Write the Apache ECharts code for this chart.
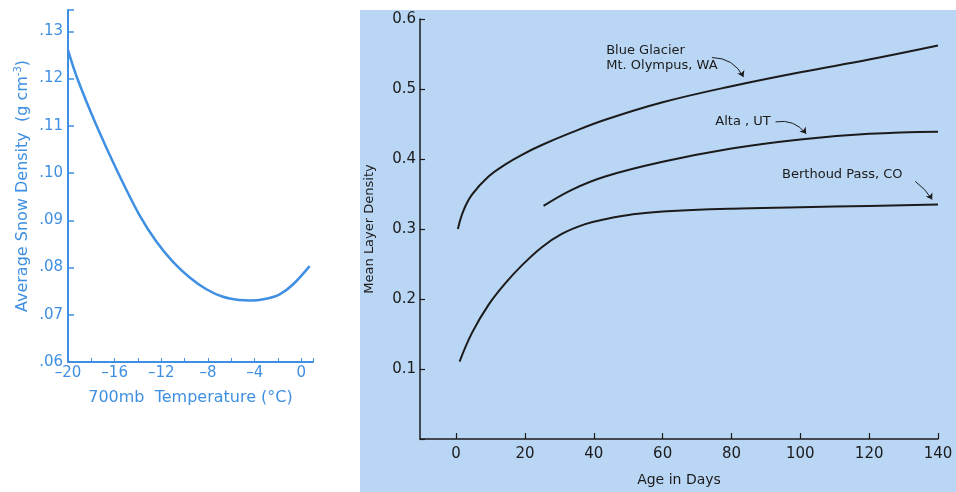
<!DOCTYPE html>
<html>
<head>
<meta charset="utf-8">
<script src="https://cdn.jsdelivr.net/npm/echarts@6/dist/echarts.min.js"></script>
<style>
  html, body { margin: 0; padding: 0; background: #fff; }
  #chart { width: 956px; height: 492px; }
</style>
</head>
<body>
<div id="chart"></div>
<script>
// left panel: snow density vs 700mb temperature
const tempC = [-20, -19.2, -17.55, -15.7, -13.9, -12.43, -11, -9.57, -8.14, -6.72, -5.29, -4.43, -3, -1.86, -0.72, 0.71];
const avgDensity = [0.126, 0.120, 0.110, 0.100, 0.0912, 0.0855, 0.0812, 0.0779, 0.0754, 0.0738, 0.0731, 0.0730, 0.0734, 0.0743, 0.0764, 0.0803];

// right panel: mean layer density vs age
const blueDays = [0.5, 2.1, 4.6, 9.4, 14.2, 19.1, 24.9, 33.6, 43.3, 60, 80, 100, 120, 140];
const blueDensity = [0.300, 0.326, 0.349, 0.375, 0.392, 0.406, 0.420, 0.438, 0.456, 0.481, 0.504, 0.524, 0.542, 0.562];
const altaDays = [25.4, 33.6, 43.3, 60, 80, 100, 120, 140];
const altaDensity = [0.333, 0.356, 0.375, 0.396, 0.415, 0.428, 0.436, 0.439];
const berthDays = [1.0, 4.6, 9.4, 14.2, 19.1, 24.9, 30.7, 37.5, 43.3, 51.4, 60, 80, 100, 120, 140];
const berthDensity = [0.1106, 0.1516, 0.1916, 0.222, 0.248, 0.274, 0.293, 0.307, 0.314, 0.321, 0.325, 0.329, 0.331, 0.333, 0.335];

const ageTicks = [0, 20, 40, 60, 80, 100, 120, 140];

// labels + arrows: [text, textDay, textVal, arrowFrom, arrowTo, curveness]
const notes = [
  ["Blue Glacier\nMt. Olympus, WA", 43.6, 0.544, [74.3, 0.545], [83.5, 0.517], 0.3],
  ["Alta , UT", 75.3, 0.453, [92.8, 0.453], [101.7, 0.436], 0.3],
  ["Berthoud Pass, CO", 94.7, 0.3775, [133.4, 0.368], [138.3, 0.342], 0.1]
];

const BLUE = "#3f8fe2";
const INK = "#1b1b1b";
const FONT = "DejaVu Sans";

function zip(xs, ys) {
  return xs.map((x, i) => [x, ys[i]]);
}

const chart = echarts.init(document.getElementById("chart"));

chart.setOption({
  animation: false,
  textStyle: { fontFamily: FONT },
  graphic: [
    { type: "rect", z: -10, shape: { x: 360, y: 10, width: 596, height: 482 }, style: { fill: "#bad6f5" } }
  ],
  grid: [
    { left: 68, top: 10, width: 245, height: 352 },
    { left: 420, top: 19, width: 518, height: 425 }
  ],
  xAxis: [
    {
      gridIndex: 0, type: "value", min: -20, max: 1, interval: 2,
      name: "700mb  Temperature (°C)", nameLocation: "middle", nameGap: 28,
      nameTextStyle: { color: BLUE, fontSize: 16 },
      axisLine: { onZero: false, lineStyle: { color: BLUE, width: 2 } },
      axisTick: { inside: true, length: 4, lineStyle: { color: BLUE, width: 1 } },
      axisLabel: {
        color: BLUE, fontSize: 15, margin: 4,
        formatter: v => (v % 4 === 0 ? String(v).replace("-", "–") : "")
      },
      splitLine: { show: false }
    },
    {
      gridIndex: 1, type: "value", min: -10.5, max: 140,
      name: "Age in Days", nameLocation: "middle", nameGap: 34,
      nameTextStyle: { color: INK, fontSize: 14 },
      axisLine: { onZero: false, lineStyle: { color: INK, width: 1.5 } },
      axisTick: { inside: true, length: 6, customValues: ageTicks, lineStyle: { color: INK, width: 1.2 } },
      axisLabel: { color: INK, fontSize: 15, margin: 8, customValues: ageTicks },
      splitLine: { show: false }
    }
  ],
  yAxis: [
    {
      gridIndex: 0, type: "value", min: 0.06, max: 0.1345, interval: 0.01,
      name: "Average Snow Density  (g cm{sup|-3})", nameLocation: "middle", nameGap: 36,
      nameTextStyle: {
        color: BLUE, fontSize: 16,
        rich: { sup: { fontSize: 10, color: BLUE, padding: [0, 0, 9, 0] } }
      },
      axisLine: { onZero: false, lineStyle: { color: BLUE, width: 2 } },
      axisTick: { inside: true, length: 6, lineStyle: { color: BLUE, width: 1.5 } },
      axisLabel: {
        color: BLUE, fontSize: 15, margin: 5,
        formatter: v => {
          const c = v * 100;
          if (Math.abs(c - Math.round(c)) > 1e-6) return "";
          return (Math.round(c) / 100).toFixed(2).slice(1);
        }
      },
      splitLine: { show: false }
    },
    {
      gridIndex: 1, type: "value", min: 0, max: 0.6, interval: 0.1,
      name: "Mean Layer Density", nameLocation: "middle", nameGap: 44,
      nameTextStyle: { color: INK, fontSize: 13 },
      axisLine: { onZero: false, lineStyle: { color: INK, width: 1.5 } },
      axisTick: { inside: true, length: 5, lineStyle: { color: INK, width: 1.2 } },
      axisLabel: {
        color: INK, fontSize: 15, margin: 4,
        formatter: v => (v === 0 ? "" : v.toFixed(1))
      },
      splitLine: { show: false }
    }
  ],
  series: [
    {
      type: "line", xAxisIndex: 0, yAxisIndex: 0, smooth: 0.35, symbol: "none",
      lineStyle: { color: BLUE, width: 2.5 },
      data: zip(tempC, avgDensity)
    },
    ...[[blueDays, blueDensity], [altaDays, altaDensity], [berthDays, berthDensity]].map(([xs, ys], i) => ({
      type: "line", xAxisIndex: 1, yAxisIndex: 1, smooth: 0.4, symbol: "none",
      lineStyle: { color: INK, width: 2 },
      data: zip(xs, ys),
      markPoint: {
        symbol: "circle", symbolSize: 0, silent: true,
        label: {
          show: true, position: "right", distance: 0, color: INK, fontSize: 13,
          lineHeight: 15, align: "left", formatter: notes[i][0]
        },
        data: [{ coord: [notes[i][1], notes[i][2]] }]
      }
    })),
    {
      type: "lines", coordinateSystem: "cartesian2d", xAxisIndex: 1, yAxisIndex: 1,
      symbol: ["none", "arrow"], symbolSize: 6, silent: true,
      lineStyle: { color: INK, width: 1, opacity: 1 },
      data: notes.map(n => ({ coords: [n[3], n[4]], lineStyle: { curveness: n[5] } }))
    }
  ]
});
</script>
</body>
</html>
